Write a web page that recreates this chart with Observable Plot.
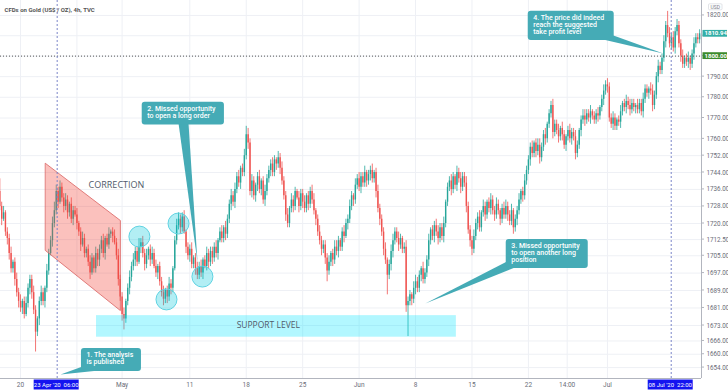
<!DOCTYPE html>
<html><head><meta charset="utf-8">
<script src="https://cdn.jsdelivr.net/npm/d3@7"></script>
<script src="https://cdn.jsdelivr.net/npm/@observablehq/plot@0.6"></script>
<style>
html,body{margin:0;padding:0;background:#fff;}
#chart{width:728px;height:391px;overflow:hidden;}
svg{display:block;}
</style></head><body><div id="chart"></div>
<script>
// ---- DATA (4h bars of CFDs on Gold, TVC) ----
// bar index 0 = 20 Apr 2020 first bar; six bars per trading day; each bar opens at the prior close
const title = "CFDs on Gold (US$ / OZ), 4h, TVC";
const firstBar = -11;
const firstOpen = 1735;
const closes = [
 /*16 Apr*/ 1728,1722,1725,1716,1713,
 /*17 Apr*/ 1706,1699,1702,1694,1688,1684,
 /*20 Apr*/ 1681,1684,1678,1683,1690,1694,
 /*21 Apr*/ 1688,1680,1670,1676,1684,1688,
 /*22 Apr*/ 1684,1690,1698,1706,1712,1720,
 /*23 Apr*/ 1726,1735,1730,1737,1732,1728,
 /*24 Apr*/ 1731,1725,1729,1722,1726,1724,
 /*27 Apr*/ 1720,1716,1710,1713,1706,1708,
 /*28 Apr*/ 1702,1697,1704,1699,1706,1703,
 /*29 Apr*/ 1708,1712,1706,1713,1710,1715,
 /*30 Apr*/ 1716,1714,1711,1705,1694,1686,
 /*01 May*/ 1678,1676,1684,1690,1695,1700,
 /*04 May*/ 1703,1707,1702,1709,1711,1706,
 /*05 May*/ 1701,1705,1708,1703,1706,1700,
 /*06 May*/ 1697,1700,1693,1688,1685,1689,
 /*07 May*/ 1686,1692,1690,1699,1712,1719,
 /*08 May*/ 1722,1718,1723,1716,1709,1705,
 /*11 May*/ 1708,1701,1704,1699,1696,1700,
 /*12 May*/ 1697,1703,1700,1706,1702,1707,
 /*13 May*/ 1704,1709,1706,1712,1716,1713,
 /*14 May*/ 1718,1715,1722,1729,1733,1730,
 /*15 May*/ 1736,1742,1739,1746,1744,1752,
 /*18 May*/ 1762,1758,1735,1740,1733,1738,
 /*19 May*/ 1742,1736,1740,1731,1735,1741,
 /*20 May*/ 1745,1748,1744,1750,1748,1751,
 /*21 May*/ 1746,1740,1733,1724,1720,1727,
 /*22 May*/ 1731,1728,1735,1732,1728,1734,
 /*25 May*/ 1730,1727,1733,1729,1735,1731,
 /*26 May*/ 1726,1722,1716,1712,1708,1710,
 /*27 May*/ 1704,1698,1702,1706,1703,1709,
 /*28 May*/ 1707,1712,1709,1716,1714,1720,
 /*29 May*/ 1722,1728,1733,1731,1738,1741,
 /*01 Jun*/ 1737,1742,1739,1744,1740,1743,
 /*02 Jun*/ 1745,1741,1744,1735,1727,1722,
 /*03 Jun*/ 1716,1708,1703,1696,1701,1707,
 /*04 Jun*/ 1712,1716,1713,1710,1713,1708,
 /*05 Jun*/ 1709,1682,1684,1687,1685,1690,
 /*08 Jun*/ 1693,1690,1696,1699,1694,1697,
 /*09 Jun*/ 1703,1712,1717,1714,1719,1716,
 /*10 Jun*/ 1713,1718,1714,1720,1730,1737,
 /*11 Jun*/ 1740,1736,1742,1738,1744,1741,
 /*12 Jun*/ 1737,1742,1739,1728,1717,1712,
 /*15 Jun*/ 1708,1714,1720,1723,1718,1725,
 /*16 Jun*/ 1728,1724,1730,1727,1731,1726,
 /*17 Jun*/ 1724,1729,1726,1722,1727,1724,
 /*18 Jun*/ 1728,1724,1721,1726,1718,1722,
 /*19 Jun*/ 1726,1731,1735,1733,1740,1745,
 /*22 Jun*/ 1750,1756,1753,1758,1754,1757,
 /*23 Jun*/ 1751,1756,1762,1760,1767,1772,
 /*24 Jun*/ 1776,1763,1767,1764,1761,1765,
 /*25 Jun*/ 1762,1757,1761,1764,1760,1763,
 /*26 Jun*/ 1761,1753,1757,1764,1769,1771,
 /*29 Jun*/ 1769,1772,1770,1773,1771,1769,
 /*30 Jun*/ 1772,1771,1775,1779,1783,1786,
 /*01 Jul*/ 1785,1770,1767,1770,1766,1769,
 /*02 Jul*/ 1768,1773,1777,1775,1778,1776,
 /*03 Jul*/ 1774,1777,1775,1776,1774,1777,
 /*06 Jul*/ 1773,1779,1784,1782,1784,1783,
 /*07 Jul*/ 1776,1781,1790,1795,1793,1799,
 /*08 Jul*/ 1807,1815,1811,1806,1809,1804,
 /*09 Jul*/ 1812,1815,1806,1800,1796,1799,
 /*10 Jul*/ 1797,1799,1796,1801,1806,1809,
 1808,1810.94
];
// upper / lower shadow beyond the candle body, US$
const wickUp = [
 6,2,3,1,2, 2,3,1,2,3,2, 3,1,2,3,2,2, 2,3,2,1,2,3, 2,1,3,2,2,3, 4,3,2,3,2,2,
 3,2,1,3,2,2, 3,1,2,3,2,1, 2,3,2,1,3,2, 2,2,3,1,2,3, 1,2,3,2,3,2, 2,3,1,2,3,2,
 3,2,2,4,2,3, 2,3,1,2,3,2, 3,1,2,2,3,1, 2,3,2,1,2,3, 3,2,2,3,1,2, 2,3,1,2,3,2,
 3,1,2,3,2,2, 2,2,3,1,2,3, 1,3,2,2,3,2, 3,2,3,1,2,3, 4,3,2,3,2,1, 2,3,1,2,3,2,
 2,2,3,2,1,3, 2,3,2,2,3,1, 3,2,2,1,3,2, 2,3,1,2,2,3, 3,1,2,3,2,2, 2,2,3,1,2,3,
 3,2,1,2,3,2, 2,3,2,1,3,2, 3,2,2,3,1,2, 2,3,1,2,3,2, 2,2,3,1,2,3, 3,2,2,3,2,1,
 2,3,2,2,1,3, 3,2,2,1,3,2, 2,3,1,2,2,3, 3,2,2,3,1,2, 2,3,2,1,3,2, 3,2,2,3,2,2,
 2,3,2,2,3,1, 3,2,1,2,3,2, 2,3,2,1,2,3, 3,2,2,3,1,2, 2,3,1,2,3,2, 2,2,3,1,2,3,
 3,2,2,3,1,2, 2,3,2,2,3,1, 3,2,1,2,3,2, 2,3,2,1,2,3, 3,2,2,3,1,2, 2,3,1,2,3,2,
 3,2,2,3,2,1, 2,3,1,2,3,2, 3,2,2,1,3,2, 2,3,2,2,1,3, 3,2,2,3,2,2, 3,2,7,3,2,3,
 2,3,2,2,3,1, 2,3,1,2,3,2, 2,2
];
const wickDn = [
 2,3,1,2,3, 3,2,2,3,2,3, 2,3,2,1,2,3, 3,2,9,2,3,2, 2,3,2,2,1,3, 2,2,3,1,2,3,
 2,3,2,2,3,1, 3,2,3,1,2,2, 2,3,1,2,2,3, 3,2,2,3,1,2, 2,3,1,2,3,2, 3,5,2,2,3,2,
 2,3,2,1,3,2, 3,2,2,3,2,1, 2,3,2,2,3,2, 3,2,3,2,1,2, 2,3,2,1,3,2, 3,2,2,3,2,2,
 2,3,1,2,3,2, 3,2,2,3,1,2, 2,3,2,2,3,2, 3,2,2,3,2,2, 2,3,2,3,2,3, 3,2,3,2,3,2,
 2,3,2,2,3,2, 3,2,2,3,2,2, 2,3,2,1,3,2, 3,2,2,3,2,2, 2,3,2,2,3,2, 3,5,2,2,3,2,
 2,3,2,2,3,1, 3,2,2,3,2,2, 2,3,2,2,3,2, 3,2,2,3,2,3, 2,3,2,9,2,3, 3,2,2,3,2,2,
 2,3,14,2,3,2, 3,2,2,3,2,2, 2,3,2,2,3,2, 3,2,2,3,2,2, 2,3,2,2,3,2, 3,2,2,3,2,3,
 3,2,2,3,2,2, 2,3,2,2,3,2, 3,2,2,3,2,2, 2,3,2,2,3,2, 3,2,2,3,2,2, 2,3,2,2,3,2,
 3,2,2,3,2,2, 2,3,2,2,3,2, 3,2,3,2,2,3, 2,3,2,2,3,2, 3,2,2,3,2,2, 2,3,2,2,3,2,
 3,2,2,3,2,2, 2,3,2,2,3,2, 3,2,2,3,2,2, 2,3,2,2,3,2, 3,2,2,3,2,2, 2,3,2,2,3,2,
 3,2,2,3,2,2, 2,3,3,2,3,2, 2,2
];
// axes
const yTicks = [1820,1810,1800,1790,1780,1770,1760,1752,1744,1736,1728,1720,1712.5,1705,1697,1689,1681,1673,1666,1660,1654];
const yTagged = [1810,1800];
const xLabels = [{i:0,t:"20"},{i:54,t:"May"},{i:90,t:"11"},{i:120,t:"18"},{i:150,t:"25"},{i:180,t:"Jun"},{i:210,t:"8"},{i:240,t:"15"},{i:270,t:"22"},{i:290.6,t:"14:00"},{i:312,t:"Jul"}];
const xHiddenGrid = [30];
const markers = [{i:19.5,t:"23 Apr '20  06:00"},{i:345.9,t:"08 Jul '20  22:00"}];
const lastPrice = 1810.94;
const takeProfit = 1800;
// drawings, anchored in (bar index, price)
const correction = [[13.3,1748.3],[53.1,1721.4],[53.1,1679.8],[13.3,1707.4]];
const support = [{x1:40.4,x2:231.7,y1:1667.7,y2:1677.5}];
const circles = [[63.2,1713.9],[77.6,1684.9],[84.0,1720.0],[96.7,1695.4]];
const labels = [{t:"CORRECTION",i:51.0,p:1737.8,s:9},{t:"SUPPORT LEVEL",i:131.7,p:1673.3,s:8.5}];
const callouts = [
 {text:"1. The analysis\nis published", x1:32.4,x2:64.3,y1:1652.2,y2:1662.6, tip:[[33.0,1654.5],[40.4,1652.6],[21.3,1650.9]]},
 {text:"2. Missed opportunity\nto open a long order", x1:64.7,x2:108.4,y1:1766.7,y2:1777.6, tip:[[84.0,1767.5],[89.3,1767.5],[94.1,1701.9]]},
 {text:"3. Missed opportunity\nto open another long\nposition", x1:258.2,x2:301.8,y1:1699.1,y2:1712.6, tip:[[258.6,1702.3],[262.5,1699.5],[215.2,1683.0]]},
 {text:"4. The price did indeed\nreach the suggested\ntake profit level", x1:269.9,x2:315.6,y1:1807.7,y2:1822.1, tip:[[310.3,1808.0],[315.2,1810.1],[341.7,1801.3]]}
];

// ---- RENDER ----
const W = 728, H = 391, mR = 27, mB = 13;
const xDomain = [-10.63, 362.0], yDomain = [1649.1, 1827.4];
const UP = "#26a69a", DN = "#ef5350", CALL = "#45abb6", GRID = "#eef0f5";
const bars = closes.map((c, k) => {
  const o = k ? closes[k - 1] : firstOpen;
  return {i: k + firstBar, o, c, h: Math.max(o, c) + wickUp[k], l: Math.min(o, c) - wickDn[k]};
});
const col = d => d.c >= d.o ? UP : DN;
const ptrs = callouts.flatMap((c, k) => c.tip.map(p => ({k, i: p[0], p: p[1]})));
const FONT = "Roboto, 'Noto Sans', sans-serif";

const chart = Plot.plot({
  width: W, height: H, marginTop: 0, marginLeft: 0, marginRight: mR, marginBottom: mB,
  x: {domain: xDomain, axis: null},
  y: {type: "log", domain: yDomain, axis: null},
  style: {fontFamily: FONT, background: "#fff", overflow: "visible"},
  marks: [
    Plot.ruleY(yTicks, {stroke: GRID}),
    Plot.ruleX(xLabels.map(d => d.i).concat(xHiddenGrid), {stroke: GRID}),
    Plot.ruleX(bars, {x: "i", y1: "l", y2: "h", stroke: col, strokeWidth: 0.8}),
    Plot.ruleX(bars, {x: "i", y1: d => Math.min(d.o, d.c), y2: d => Math.max(d.o, d.c), stroke: col, strokeWidth: 1.4}),
    Plot.line(correction, {x: d => d[0], y: d => d[1], curve: "linear-closed", fill: "#f44336", fillOpacity: 0.33, stroke: "#d9615f", strokeWidth: 0.8}),
    Plot.rect(support, {x1: "x1", x2: "x2", y1: "y1", y2: "y2", fill: "#00e5ff", fillOpacity: 0.3}),
    Plot.dot(circles, {x: d => d[0], y: d => d[1], r: 10.5, fill: "#00c8dc", fillOpacity: 0.3, stroke: "#5fd3e2", strokeWidth: 1}),
    Plot.ruleY([takeProfit], {stroke: "#555", strokeDasharray: "1,2"}),
    Plot.ruleX(markers, {x: "i", stroke: "#7b86c9", strokeDasharray: "2,2"}),
    Plot.text(labels, {x: "i", y: "p", text: "t", fontSize: d => d.s, fill: "#505a6b", fontFamily: "'Open Sans', sans-serif"}),
    Plot.line(ptrs, {x: "i", y: "p", z: "k", curve: "linear-closed", fill: CALL, stroke: "none"}),
    Plot.rect(callouts, {x1: "x1", x2: "x2", y1: "y1", y2: "y2", fill: CALL, rx: 3}),
    Plot.text(callouts, {x: "x1", y: "y2", text: "text", dx: 5, dy: 4, textAnchor: "start", lineAnchor: "top", lineHeight: 1, fontSize: 7, fill: "#fff", fontWeight: 500}),
    Plot.ruleX([xDomain[1]], {stroke: "#b2b5be"}),
    Plot.ruleY([yDomain[0]], {stroke: "#b2b5be"}),
    Plot.text(yTicks.filter(t => !yTagged.includes(t)), {x: () => xDomain[1], y: d => d, text: d => d3.format(".2f")(d), dx: 5, textAnchor: "start", fontSize: 6.3, fill: "#6a6d78"}),
    Plot.text(xLabels, {x: "i", text: "t", frameAnchor: "bottom", dy: 8, fontSize: 6.5, fill: "#6a6d78"}),
    Plot.text([title], {text: d => d, frameAnchor: "top-left", dx: 4, dy: 7, textAnchor: "start", fontSize: 6, fontWeight: 700, fill: "#555"})
  ]
});
document.getElementById("chart").appendChild(chart);

// overlays using the plot's own scales
const sx = chart.scale("x"), sy = chart.scale("y");
const X = v => sx.apply(v), Y = v => sy.apply(v);
const svg = d3.select(chart);
const xR = X(xDomain[1]);
const g = svg.append("g").attr("font-family", FONT).attr("text-anchor", "start");
g.selectAll("line.tk").data(yTicks).join("line").attr("x1", xR).attr("x2", xR + 3)
  .attr("y1", d => Y(d)).attr("y2", d => Y(d)).attr("stroke", "#b2b5be");
const tags = [{v: lastPrice, f: "#33aea6"}, {v: takeProfit, f: "#3c8a2c"}];
tags.forEach(t => {
  const y = Y(t.v);
  g.append("rect").attr("x", xR + 1.5).attr("y", y - 3.4).attr("width", 24.5).attr("height", 6.8).attr("fill", t.f);
  g.append("text").attr("x", xR + 3.5).attr("y", y).attr("dy", "0.35em").attr("text-anchor", "start")
    .attr("font-size", 6).attr("font-weight", 700).attr("fill", "#fff").text(d3.format(".2f")(t.v));
});
g.append("rect").attr("x", xR + 7.5).attr("y", 3.8).attr("width", 13.5).attr("height", 6).attr("rx", 1)
  .attr("fill", "#fff").attr("stroke", "#cfd2d8").attr("stroke-width", 0.6);
g.append("text").attr("x", xR + 14.25).attr("y", 6.8).attr("dy", "0.35em").attr("text-anchor", "middle")
  .attr("font-size", 5).attr("fill", "#787b86").text("USD");
markers.forEach(m => {
  const x = X(m.i);
  g.append("rect").attr("x", x - 23).attr("y", H - 11.5).attr("width", 45).attr("height", 10).attr("fill", "#1414f0");
  g.append("text").attr("x", x - 0.5).attr("y", H - 6.5).attr("dy", "0.35em").attr("text-anchor", "middle")
    .attr("font-size", 6).attr("fill", "#fff").attr("xml:space", "preserve").style("white-space", "pre").text(m.t);
});
</script></body></html>
